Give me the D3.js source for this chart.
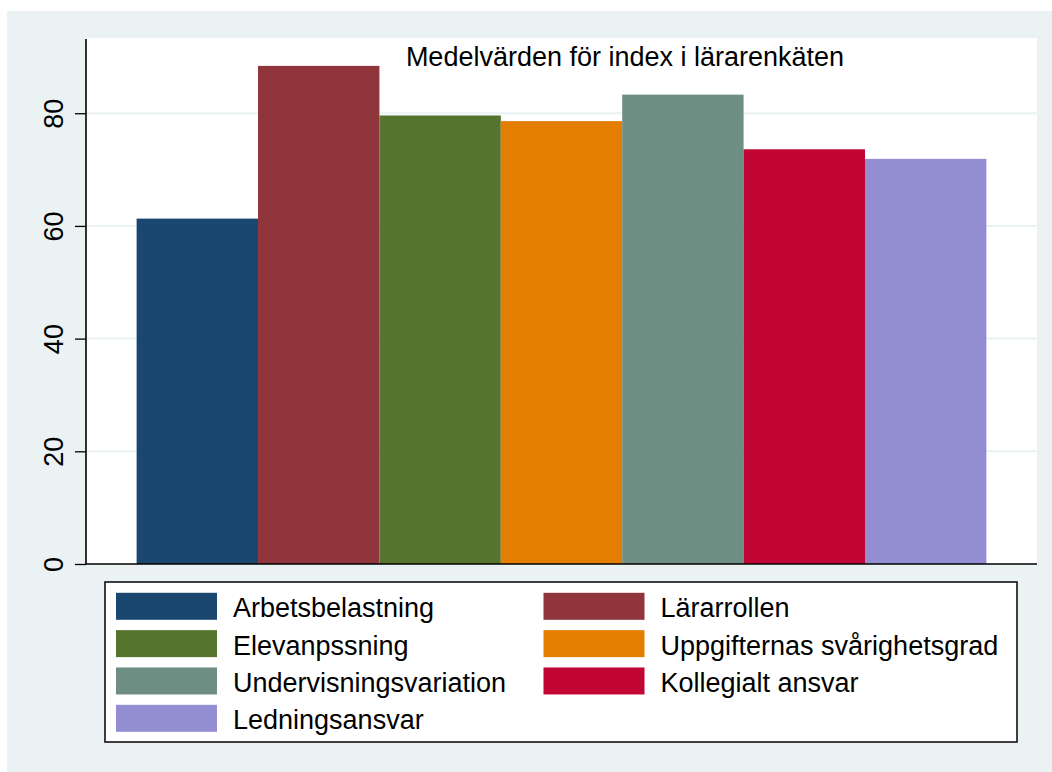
<!DOCTYPE html>
<html lang="sv">
<head>
<meta charset="UTF-8">
<title>Medelvärden för index i lärarenkäten</title>
<script src="https://d3js.org/d3.v7.min.js"></script>
<style>
  body { margin: 0; background: #fff; }
  text { font-family: "Liberation Sans", Arial, sans-serif; fill: #000; }
</style>
</head>
<body>
<svg id="chart" width="1052" height="772"></svg>
<script>
// data
const categories = ["Arbetsbelastning", "Lärarrollen", "Elevanpssning", "Uppgifternas svårighetsgrad",
                    "Undervisningsvariation", "Kollegialt ansvar", "Ledningsansvar"];
const values = [61.3, 88.4, 79.6, 78.6, 83.3, 73.6, 71.9];
const colors = ["#1A476F", "#90353B", "#55752F", "#E37E00", "#6E8E84", "#C10534", "#938DD2"];
const yTicks = [0, 20, 40, 60, 80];
const title = "Medelvärden för index i lärarenkäten";

const svg = d3.select("#chart");
const bg = "#EAF2F3";
const fontSize = "27px";

// outer graph region
svg.append("rect").attr("x", 7).attr("y", 11).attr("width", 1045).attr("height", 761).attr("fill", bg);

const plot = {left: 86, right: 1037, top: 38, bottom: 564};

svg.append("rect")
  .attr("x", plot.left).attr("y", plot.top)
  .attr("width", plot.right - plot.left).attr("height", plot.bottom - plot.top)
  .attr("fill", "#fff");

const x = d3.scaleBand()
  .domain(categories)
  .range([plot.left, plot.right])
  .paddingInner(0)
  .paddingOuter(0.417);

const y = d3.scaleLinear()
  .domain([0, 93.35])
  .range([plot.bottom, plot.top]);

// gridlines
svg.append("g").selectAll("line")
  .data(yTicks.filter(d => d > 0))
  .join("line")
  .attr("x1", plot.left).attr("x2", plot.right)
  .attr("y1", d => y(d)).attr("y2", d => y(d))
  .attr("stroke", bg).attr("stroke-width", 2);

// bars
svg.append("g").selectAll("rect")
  .data(categories)
  .join("rect")
  .attr("x", d => x(d))
  .attr("width", x.bandwidth())
  .attr("y", (d, i) => y(values[i]))
  .attr("height", (d, i) => y(0) - y(values[i]))
  .attr("fill", (d, i) => colors[i]);

// y axis
const yAxis = svg.append("g")
  .attr("transform", `translate(${plot.left},0)`)
  .call(d3.axisLeft(y).tickValues(yTicks).tickSize(11).tickPadding(0).tickFormat(d3.format("d")));
yAxis.select(".domain").attr("d", `M0,${plot.top + 1}V${plot.bottom}`).attr("stroke", "#000").attr("stroke-width", 1.6);
yAxis.selectAll(".tick line").attr("stroke", "#000").attr("stroke-width", 1.3);
yAxis.selectAll(".tick text")
  .attr("x", null).attr("dy", null)
  .attr("text-anchor", "middle")
  .attr("transform", "translate(-23,0) rotate(-90)")
  .style("font-size", fontSize)
  .style("font-family", "'Liberation Sans', Arial, sans-serif")
  .attr("fill", "#000");

// x axis line
svg.append("line")
  .attr("x1", plot.left).attr("x2", plot.right)
  .attr("y1", plot.bottom).attr("y2", plot.bottom)
  .attr("stroke", "#000").attr("stroke-width", 1.6);

// title
svg.append("text")
  .attr("x", 625).attr("y", 66)
  .attr("text-anchor", "middle")
  .style("font-size", fontSize)
  .text(title);

// legend
const legend = {left: 105, top: 582, right: 1017, bottom: 742};
svg.append("rect")
  .attr("x", legend.left).attr("y", legend.top)
  .attr("width", legend.right - legend.left).attr("height", legend.bottom - legend.top)
  .attr("fill", "#fff").attr("stroke", "#111").attr("stroke-width", 1.6);

const colX = [116, 543.5];
const rowY = d3.scaleLinear().domain([0, 3]).range([606.3, 718.3]);

const items = svg.append("g").selectAll("g")
  .data(categories)
  .join("g")
  .attr("transform", (d, i) => `translate(${colX[i % 2]},${rowY(Math.floor(i / 2))})`);

items.append("rect")
  .attr("x", 0).attr("y", -13.5)
  .attr("width", 101).attr("height", 27)
  .attr("fill", (d, i) => colors[i]);

items.append("text")
  .attr("x", 117).attr("y", 11)
  .style("font-size", fontSize)
  .text(d => d);
</script>
</body>
</html>
